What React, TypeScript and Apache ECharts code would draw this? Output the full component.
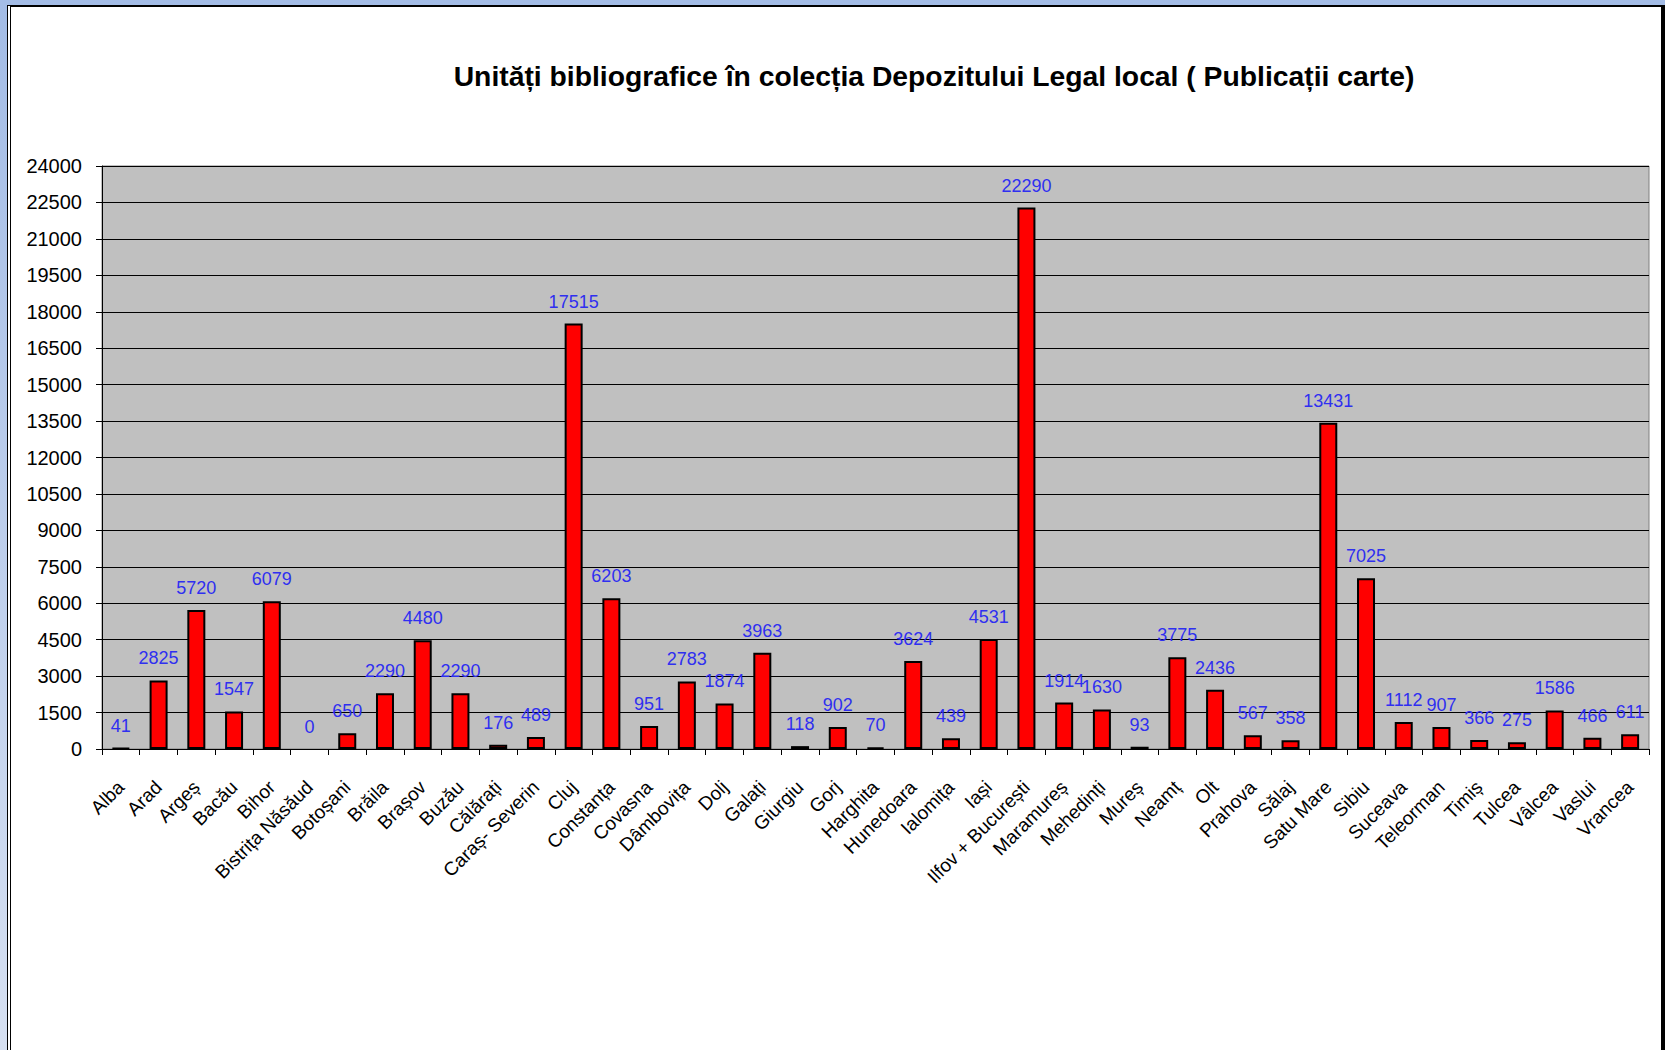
import React, { useEffect, useRef } from "react";
import * as echarts from "echarts";

const TITLE = "Unități bibliografice în colecția Depozitului Legal local ( Publicații carte)";

const counties: string[] = [
  "Alba", "Arad", "Argeș", "Bacău", "Bihor", "Bistrița Năsăud", "Botoșani", "Brăila",
  "Brașov", "Buzău", "Călărați", "Caraș- Severin", "Cluj", "Constanța", "Covasna",
  "Dâmbovița", "Dolj", "Galați", "Giurgiu", "Gorj", "Harghita", "Hunedoara", "Ialomița",
  "Iași", "Ilfov + București", "Maramureș", "Mehedinți", "Mureș", "Neamț", "Olt",
  "Prahova", "Sălaj", "Satu Mare", "Sibiu", "Suceava", "Teleorman", "Timiș", "Tulcea",
  "Vâlcea", "Vaslui", "Vrancea",
];

const units: number[] = [
  41, 2825, 5720, 1547, 6079, 0, 650, 2290,
  4480, 2290, 176, 489, 17515, 6203, 951,
  2783, 1874, 3963, 118, 902, 70, 3624, 439,
  4531, 22290, 1914, 1630, 93, 3775, 2436,
  567, 358, 13431, 7025, 1112, 907, 366, 275,
  1586, 466, 611,
];

const yMin = 0;
const yMax = 24000;
const yStep = 1500;

const FONT = "'Liberation Sans', Arial, sans-serif";

export default function App() {
  const ref = useRef<HTMLDivElement>(null);

  useEffect(() => {
    document.body.style.margin = "0";
    if (!ref.current) return;
    const chart = echarts.init(ref.current, undefined, { renderer: "svg" });
    chart.setOption({
      animation: false,
      title: {
        text: TITLE,
        left: 929,
        top: 57,
        textAlign: "center",
        textStyle: {
          fontFamily: FONT,
          fontSize: 28.3,
          fontWeight: "bold",
          color: "#000",
        },
      },
      grid: {
        left: 102,
        right: 16,
        top: 166,
        bottom: 301,
        show: true,
        backgroundColor: "#c0c0c0",
        borderColor: "#808080",
        borderWidth: 1,
      },
      xAxis: {
        type: "category",
        data: counties,
        boundaryGap: true,
        axisLine: { show: true, lineStyle: { color: "#000", width: 1 } },
        axisTick: { show: true, length: 6, lineStyle: { color: "#000" } },
        axisLabel: {
          interval: 0,
          rotate: 45,
          margin: 35,
          color: "#000",
          fontFamily: FONT,
          fontSize: 19,
        },
      },
      yAxis: {
        type: "value",
        min: yMin,
        max: yMax,
        interval: yStep,
        axisLine: { show: true, lineStyle: { color: "#000", width: 1 } },
        axisTick: { show: true, length: 6, lineStyle: { color: "#000" } },
        splitLine: { show: true, lineStyle: { color: "#000", width: 1 } },
        axisLabel: {
          margin: 20,
          color: "#000",
          fontFamily: FONT,
          fontSize: 20,
          formatter: (v: number) => String(v),
        },
      },
      series: [
        {
          type: "bar",
          barWidth: 18,
          data: units.map((v) =>
            v === 0 ? { value: v, itemStyle: { borderWidth: 0 } } : v
          ),
          itemStyle: {
            color: "#ff0000",
            borderColor: "#000",
            borderWidth: 2,
          },
          label: {
            show: true,
            position: "top",
            distance: 13,
            color: "#2f2ff0",
            fontFamily: FONT,
            fontSize: 18,
          },
        },
      ],
    });
    return () => chart.dispose();
  }, []);

  return (
    <div
      style={{
        position: "relative",
        width: 1665,
        height: 1050,
        overflow: "hidden",
        background: "linear-gradient(to bottom, #a3bce6, #d6e0f2)",
      }}
    >
      <div
        style={{
          position: "absolute",
          left: 7,
          top: 5,
          width: 1658,
          height: 1045,
          boxSizing: "border-box",
          background: "#fff",
          borderTop: "2px solid #000",
          borderLeft: "4px double #000",
          borderRight: "4px solid #000",
        }}
      />
      <div
        ref={ref}
        style={{ position: "absolute", left: 0, top: 0, width: 1665, height: 1050 }}
      />
    </div>
  );
}
